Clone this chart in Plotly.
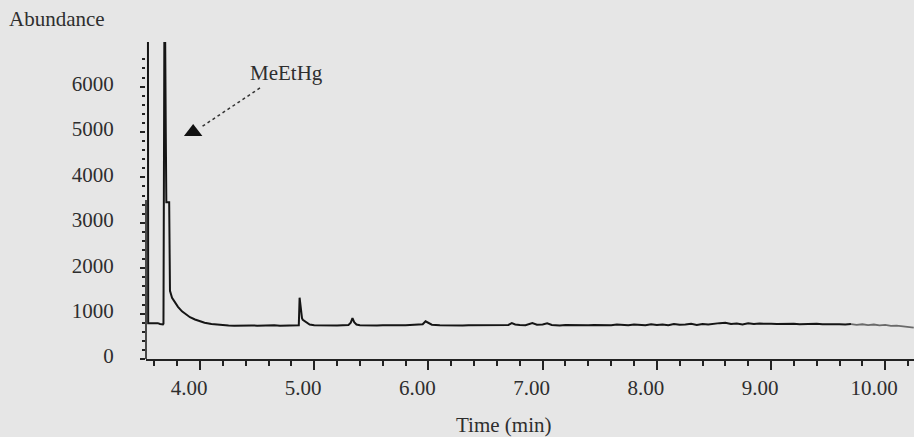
import plotly.graph_objects as go

# Chromatogram (abundance vs retention time, minutes)
time_min = [
    3.544, 3.545, 3.546, 3.57, 3.60, 3.63, 3.65, 3.675, 3.680,
    3.690, 3.700, 3.705, 3.730, 3.732, 3.737, 3.755, 3.78, 3.807, 3.842,
    3.877, 3.912, 3.956, 4.00, 4.04, 4.10, 4.175,
    4.25, 4.30, 4.35, 4.40, 4.45, 4.50, 4.55, 4.60, 4.65, 4.70, 4.75,
    4.80, 4.85, 4.865, 4.872, 4.882, 4.893, 4.90, 4.93, 4.96,
    5.00, 5.05, 5.10, 5.15, 5.20, 5.25, 5.30, 5.32, 5.335, 5.35, 5.37,
    5.40, 5.45, 5.50, 5.55, 5.60, 5.65, 5.70, 5.75, 5.80, 5.85, 5.90,
    5.95, 5.975, 6.00, 6.03, 6.10, 6.15, 6.20, 6.25, 6.30, 6.35, 6.40,
    6.45, 6.50, 6.55, 6.60, 6.65, 6.70, 6.73, 6.76, 6.80, 6.85, 6.91,
    6.95, 7.00, 7.04, 7.08, 7.15, 7.20, 7.25, 7.30, 7.35, 7.40, 7.45,
    7.50, 7.55, 7.60, 7.65, 7.70, 7.75, 7.80, 7.85, 7.90, 7.95, 8.00,
    8.05, 8.10, 8.15, 8.20, 8.25, 8.30, 8.35, 8.40, 8.45, 8.50, 8.55,
    8.60, 8.65, 8.70, 8.75, 8.80, 8.85, 8.90, 8.95, 9.00, 9.05, 9.10,
    9.15, 9.20, 9.25, 9.30, 9.35, 9.40, 9.45, 9.50, 9.55, 9.60, 9.65,
    9.70, 9.75, 9.80, 9.85, 9.90, 9.95, 10.00, 10.05, 10.10, 10.15,
    10.20, 10.25,
]
abundance = [
    7500, 3500, 790, 790, 785, 790, 770, 760, 780,
    9000, 5050, 3450, 3450, 1550, 1500, 1350, 1250, 1150, 1050,
    980, 920, 870, 830, 800, 770, 750,
    740, 735, 740, 730, 740, 735, 740, 730, 745, 735, 740,
    735, 740, 745, 1350, 1060, 900, 860, 800, 760,
    745, 740, 735, 745, 740, 745, 750, 800, 900, 810, 760,
    745, 740, 745, 740, 745, 740, 750, 745, 745, 750, 755,
    765, 830, 790, 755, 745, 740, 745, 745, 740, 745, 745,
    740, 745, 745, 740, 745, 750, 790, 760, 750, 745, 790,
    755, 760, 785, 750, 740, 750, 745, 750, 745, 745, 750,
    745, 750, 745, 760, 750, 745, 760, 750, 745, 765, 750,
    760, 745, 770, 755, 760, 775, 750, 770, 760, 780, 790,
    800, 770, 780, 760, 785, 770, 780, 770, 775, 770, 775,
    770, 775, 765, 770, 760, 775, 765, 770, 760, 765, 760,
    770, 750, 765, 745, 760, 740, 750, 730, 735, 720,
    710, 690,
]

peak_label = "MeEtHg"
y_major_ticks = [0, 1000, 2000, 3000, 4000, 5000, 6000]
x_major_ticks = [4, 5, 6, 7, 8, 9, 10]

FONT = "Liberation Serif"
INK = "#222222"
TEXT = "#2e2e2e"
BG = "#e6e6e6"

# the late part of the run is drawn fainter
split = next(i for i, t in enumerate(time_min) if t >= 9.70)

fig = go.Figure()
fig.add_trace(go.Scatter(
    x=time_min[:split + 1], y=abundance[:split + 1], mode="lines",
    line=dict(color="#151515", width=2.0), showlegend=False, hoverinfo="skip",
))
fig.add_trace(go.Scatter(
    x=time_min[split:], y=abundance[split:], mode="lines",
    line=dict(color="#6a6a6a", width=1.8), showlegend=False, hoverinfo="skip",
))

# peak marker and pointer
fig.add_trace(go.Scatter(
    x=[3.94], y=[5000], mode="markers",
    marker=dict(symbol="triangle-up", size=16, color="#111111"),
    showlegend=False, hoverinfo="skip",
))
fig.add_shape(type="line", xref="x", yref="y", x0=4.525, y0=5970, x1=4.0, y1=5090,
              line=dict(color="#333333", width=1.5, dash="dot"))
fig.add_annotation(x=4.757, y=6290, xref="x", yref="y", text=peak_label,
                   showarrow=False, font=dict(family=FONT, size=21, color=TEXT))

# y axis line (solid only over the lower part)
fig.add_shape(type="line", xref="paper", yref="y", x0=0, x1=0, y0=0, y1=3500,
              line=dict(color=INK, width=1.6))

fig.add_annotation(x=-0.181, y=1.0726, xref="paper", yref="paper", text="Abundance",
                   showarrow=False, xanchor="left", yanchor="middle",
                   font=dict(family=FONT, size=21, color=TEXT))
fig.add_annotation(x=0.466, y=-0.208, xref="paper", yref="paper", text="Time (min)",
                   showarrow=False, xanchor="center", yanchor="middle",
                   font=dict(family=FONT, size=21, color=TEXT))

fig.update_layout(
    width=914, height=437,
    margin=dict(l=146, r=0, t=42, b=78),
    paper_bgcolor=BG, plot_bgcolor=BG,
    font=dict(family=FONT, size=21, color=TEXT),
    xaxis=dict(
        range=[3.527, 10.252], showgrid=False, zeroline=False,
        showline=True, linecolor=INK, linewidth=1.6,
        tickmode="array", tickvals=x_major_ticks,
        ticktext=[f"{v:.2f}" for v in x_major_ticks],
        ticks="outside", ticklen=9, tickwidth=1.5, tickcolor=INK,
        ticklabelshift=-11,
        minor=dict(ticks="outside", ticklen=5, tickwidth=1.5, tickcolor=INK,
                   dtick=0.2, tick0=0),
    ),
    yaxis=dict(
        range=[0, 6982], showgrid=False, zeroline=False, showline=False,
        tickmode="array", tickvals=y_major_ticks,
        ticktext=[str(v) for v in y_major_ticks],
        ticks="outside", ticklen=5, tickwidth=1.5, tickcolor=INK,
        ticklabelstandoff=22, ticklabelshift=-3,
        minor=dict(ticks="outside", ticklen=3, tickwidth=1.5, tickcolor=INK,
                   tickmode="array", tickvals=[v for v in range(200, 6601, 200)]),
    ),
)

fig.write_html("out.html")
